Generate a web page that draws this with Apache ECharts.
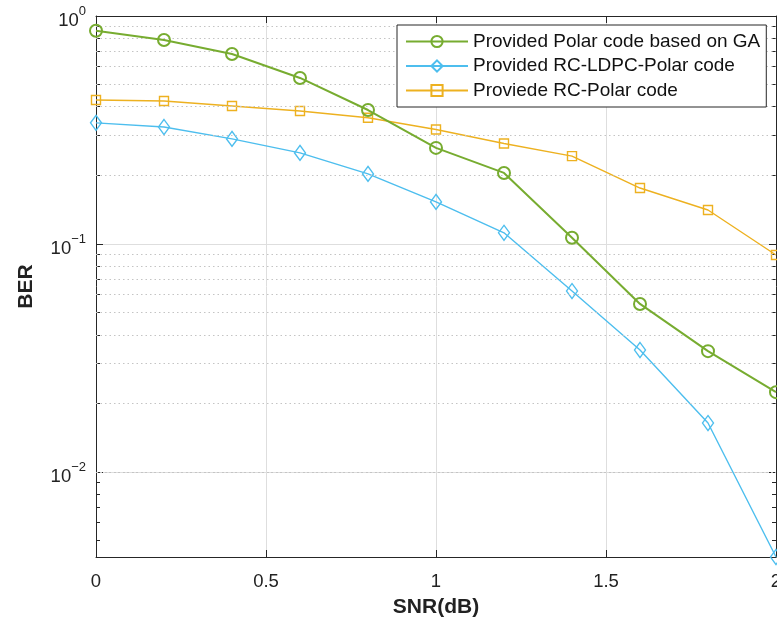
<!DOCTYPE html>
<html>
<head>
<meta charset="utf-8">
<script src="https://cdn.jsdelivr.net/npm/echarts@6/dist/echarts.min.js"></script>
<style>html,body{margin:0;padding:0;background:#fff;}#chart{width:777px;height:628px;}</style>
</head>
<body>
<div id="chart"></div>
<script>
const snr = [0, 0.2, 0.4, 0.6, 0.8, 1.0, 1.2, 1.4, 1.6, 1.8, 2.0];
const polarGA = [0.862, 0.785, 0.681, 0.535, 0.387, 0.264, 0.205, 0.1066, 0.0546, 0.0339, 0.0224];
const rcLdpcPolar = [0.34, 0.326, 0.289, 0.251, 0.203, 0.153, 0.112, 0.0622, 0.0343, 0.0164, 0.00424];
const rcPolar = [0.428, 0.424, 0.403, 0.383, 0.358, 0.318, 0.276, 0.243, 0.176, 0.141, 0.0895];
const seriesNames = ['Provided Polar code based on GA', 'Provided RC-LDPC-Polar code', 'Proviede RC-Polar code'];
const xTicks = [0, 0.5, 1, 1.5, 2];
const yMajorTicks = [0.01, 0.1, 1];
const yMajorLabels = ['{b|10}{s|\u22122}', '{b|10}{s|\u22121}', '{b|10}{s|0}'];
const yMinorTicks = [0.005, 0.006, 0.007, 0.008, 0.009,
  0.02, 0.03, 0.04, 0.05, 0.06, 0.07, 0.08, 0.09,
  0.2, 0.3, 0.4, 0.5, 0.6, 0.7, 0.8, 0.9];
const yMin = 0.00424, yMax = 1;

const FONT = "'Liberation Sans', Arial, sans-serif";
const AX = '#262626';
const GRID = '#dedede';
const MINOR = '#c4c4c4';

const chart = echarts.init(document.getElementById('chart'), null, {renderer: 'canvas'});

function pair(a) { return snr.map((x, i) => [x, a[i]]); }

const option = {
  backgroundColor: '#fff',
  animation: false,
  textStyle: {fontFamily: FONT},
  grid: {left: 96, right: 1, top: 16, bottom: 71, containLabel: false, outerBoundsMode: 'none'},
  legend: {
    orient: 'vertical',
    left: 397, top: 25,
    padding: [7, 6, 7, 8],
    itemWidth: 62, itemHeight: 14, itemGap: 5.5,
    backgroundColor: '#fff',
    borderColor: AX, borderWidth: 1,
    textStyle: {fontFamily: FONT, fontSize: 19, color: '#111'},
    data: seriesNames,
    z: 20
  },
  xAxis: [{
    type: 'value', min: 0, max: 2, interval: 0.5,
    name: 'SNR(dB)', nameLocation: 'middle', nameGap: 40,
    nameTextStyle: {fontFamily: FONT, fontSize: 21, fontWeight: 'bold', color: '#222'},
    axisLine: {show: true, lineStyle: {color: AX, width: 1}},
    axisTick: {show: true, inside: true, length: 7, lineStyle: {color: AX}},
    axisLabel: {fontFamily: FONT, fontSize: 18.5, color: '#222', margin: 15,
      formatter: v => String(v)},
    splitLine: {show: true, lineStyle: {color: GRID, width: 1}}
  }, {
    type: 'value', min: 0, max: 2, interval: 0.5, position: 'top',
    axisLine: {show: true, lineStyle: {color: AX, width: 1}},
    axisTick: {show: true, inside: true, length: 7, lineStyle: {color: AX}},
    axisLabel: {show: false}, splitLine: {show: false}
  }],
  yAxis: [{
    type: 'log', logBase: 10, min: yMin, max: yMax, position: 'left',
    name: 'BER', nameLocation: 'middle', nameGap: 59,
    nameTextStyle: {fontFamily: FONT, fontSize: 21, fontWeight: 'bold', color: '#222'},
    axisLine: {show: true, lineStyle: {color: AX, width: 1}},
    axisTick: {show: true, inside: true, length: 7, lineStyle: {color: AX}, customValues: yMajorTicks},
    axisLabel: {
      customValues: yMajorTicks, margin: 10, color: '#222', fontFamily: FONT,
      formatter: v => {
        for (let i = 0; i < yMajorTicks.length; i++) {
          if (Math.abs(Math.log10(v) - Math.log10(yMajorTicks[i])) < 1e-6) return yMajorLabels[i];
        }
        return '';
      },
      rich: {
        b: {fontFamily: FONT, fontSize: 18.5, color: '#222', padding: [10, 0, 0, 0], verticalAlign: 'bottom'},
        s: {fontFamily: FONT, fontSize: 13, color: '#222', padding: [3, 0, 0, 0], verticalAlign: 'top'}
      }
    },
    splitLine: {show: true, lineStyle: {color: GRID, width: 1}}
  }, {
    type: 'log', logBase: 10, min: yMin, max: yMax, position: 'left',
    axisLine: {show: false},
    axisTick: {show: true, inside: true, length: 4, lineStyle: {color: AX}, customValues: yMinorTicks},
    axisLabel: {show: false}, splitLine: {show: false}
  }, {
    type: 'log', logBase: 10, min: yMin, max: yMax, position: 'right',
    axisLine: {show: true, lineStyle: {color: AX, width: 1}},
    axisTick: {show: true, inside: true, length: 7, lineStyle: {color: AX}, customValues: yMajorTicks},
    axisLabel: {show: false}, splitLine: {show: false}
  }, {
    type: 'log', logBase: 10, min: yMin, max: yMax, position: 'right',
    axisLine: {show: false},
    axisTick: {show: true, inside: true, length: 4, lineStyle: {color: AX}, customValues: yMinorTicks},
    axisLabel: {show: false}, splitLine: {show: false}
  }],
  series: [{
    name: 'minor-grid', type: 'line', data: [], silent: true,
    markLine: {
      silent: true, symbol: 'none', animation: false,
      label: {show: false},
      lineStyle: {color: MINOR, type: [1.5, 3], width: 1},
      data: yMinorTicks.map(v => ({yAxis: v}))
    },
    z: 1
  }, {
    name: seriesNames[2], type: 'line', data: pair(rcPolar),
    symbol: 'rect', symbolSize: 9,
    lineStyle: {color: '#EDB120', width: 1.4},
    itemStyle: {color: 'rgba(255,255,255,0)', borderColor: '#EDB120', borderWidth: 1.4},
    color: '#EDB120', z: 3
  }, {
    name: seriesNames[1], type: 'line', data: pair(rcLdpcPolar),
    symbol: 'diamond', symbolSize: [11, 15],
    lineStyle: {color: '#4DBEEE', width: 1.4},
    itemStyle: {color: 'rgba(255,255,255,0)', borderColor: '#4DBEEE', borderWidth: 1.4},
    color: '#4DBEEE', z: 4
  }, {
    name: seriesNames[0], type: 'line', data: pair(polarGA),
    symbol: 'circle', symbolSize: 12,
    lineStyle: {color: '#77AC30', width: 2},
    itemStyle: {color: 'rgba(255,255,255,0)', borderColor: '#77AC30', borderWidth: 2},
    color: '#77AC30', z: 5
  }]
};
chart.setOption(option);
</script>
</body>
</html>
